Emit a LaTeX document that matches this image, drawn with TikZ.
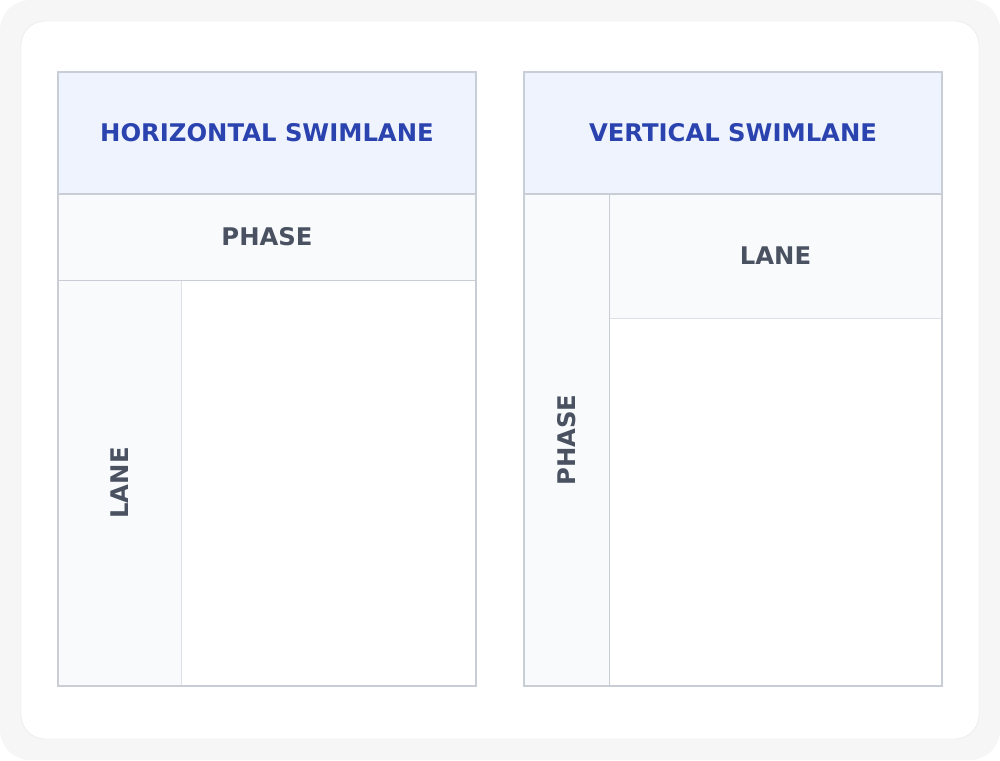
\documentclass[tikz,border=0pt]{standalone}
\usepackage{fontspec}
\setmainfont{DejaVu Sans}
\usetikzlibrary{math}
\definecolor{pagegray}{HTML}{F6F6F6}
\definecolor{cardline}{HTML}{E3E3E5}
\definecolor{headfill}{HTML}{EEF3FE}
\definecolor{cellfill}{HTML}{F8FAFC}
\definecolor{edgegray}{HTML}{C9CED6}
\definecolor{thingray}{HTML}{DCE2EA}
\definecolor{headblue}{HTML}{2B43AE}
\definecolor{labelgray}{HTML}{4A5261}
\begin{document}
\begin{tikzpicture}[x=1pt,y=-1pt,
    head/.style={font=\bfseries\fontsize{24.3}{28}\selectfont, text=headblue},
    cell/.style={font=\bfseries\fontsize{24.3}{28}\selectfont, text=labelgray}]
      \tikzmath{\ytop = 72; \ybot = 686; \yhead = 194;
        \xhl = 58; \xhr = 476; \xhc = 181; \yhr = 280;
        \xvl = 524; \xvr = 942; \xvc = 609; \yvr = 318;}
      % page and card
      \fill[pagegray, rounded corners=30] (0,0) rectangle (1000,760);
      \draw[cardline, fill=white, rounded corners=24] (21,21) rectangle (979,739);
      % horizontal swimlane
      \path[fill=headfill] (\xhl,\ytop) rectangle (\xhr,\yhead);
      \path[fill=cellfill] (\xhl,\yhead) rectangle (\xhr,\yhr);
      \path[fill=cellfill] (\xhl,\yhr) rectangle (\xhc,\ybot);
      \draw[thingray] (\xhc,\yhr) -- (\xhc,\ybot);
      \draw[edgegray, line width=1.2] (\xhl,\yhead) -- (\xhr,\yhead);
      \draw[edgegray] (\xhl,\yhr) -- (\xhr,\yhr);
      \draw[edgegray, line width=1.2] (\xhl,\ytop) rectangle (\xhr,\ybot);
      \node[head] (hname) at ({(\xhl+\xhr)/2},{(\ytop+\yhead)/2}) {HORIZONTAL SWIMLANE};
      \node[cell] (hphase) at ({(\xhl+\xhr)/2},{(\yhead+\yhr)/2}) {PHASE};
      \node[cell, rotate=90] (hlane) at ({(\xhl+\xhc)/2},{(\yhr+\ybot)/2}) {LANE};
      % vertical swimlane
      \path[fill=headfill] (\xvl,\ytop) rectangle (\xvr,\yhead);
      \path[fill=cellfill] (\xvl,\yhead) rectangle (\xvc,\ybot);
      \path[fill=cellfill] (\xvc,\yhead) rectangle (\xvr,\yvr);
      \draw[thingray] (\xvc,\yvr) -- (\xvr,\yvr);
      \draw[edgegray] (\xvc,\yhead) -- (\xvc,\ybot);
      \draw[edgegray, line width=1.2] (\xvl,\yhead) -- (\xvr,\yhead);
      \draw[edgegray, line width=1.2] (\xvl,\ytop) rectangle (\xvr,\ybot);
      \node[head] (vname) at ({(\xvl+\xvr)/2},{(\ytop+\yhead)/2}) {VERTICAL SWIMLANE};
      \node[cell] (vlane) at ({(\xvc+\xvr)/2},{(\yhead+\yvr)/2}) {LANE};
      \node[cell, rotate=90] (vphase) at ({(\xvl+\xvc)/2},{(\yhead+\ybot)/2}) {PHASE};
    \end{tikzpicture}
\end{document}
